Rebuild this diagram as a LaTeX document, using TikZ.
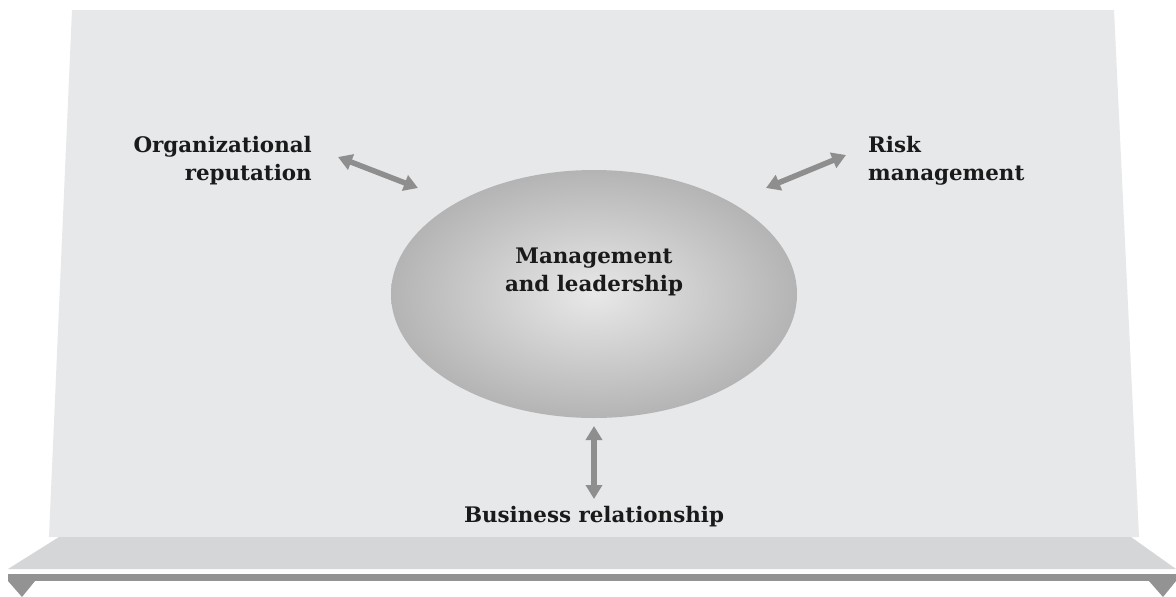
\documentclass[tikz,border=0pt]{standalone}
\usepackage{fontspec}
\setmainfont{DejaVu Serif}
\usetikzlibrary{arrows.meta,shapes.geometric}
\definecolor{panelc}{HTML}{E7E8EA}
\definecolor{shelfc}{HTML}{D5D6D8}
\definecolor{barc}{HTML}{939393}
\definecolor{arrc}{HTML}{8E8E8E}
\definecolor{ellout}{HTML}{B4B4B4}
\definecolor{ellin}{HTML}{E8E8E8}
\definecolor{txtc}{HTML}{1A1A1A}
\tikzset{
  lbl/.style={font=\fontsize{21.4}{28}\selectfont\bfseries, text=txtc, inner sep=0pt},
  dblarrow/.style={draw=arrc, line width=5.5pt, {Triangle[length=14pt,width=16pt]}-{Triangle[length=14pt,width=16pt]}},
}
\begin{document}
\begin{tikzpicture}[x=1pt,y=-1pt]
\useasboundingbox[fill=white] (0,0) rectangle (1176,597);
% panel
\fill[panelc] (72,10) -- (1114,10) -- (1139,537) -- (49,537) -- cycle;
% shelf
\fill[shelfc] (59,537) -- (1131,537) -- (1176,569) -- (8,569) -- cycle;
% bar and feet
\fill[barc] (8,574) rectangle (1176,581);
\fill[barc] (8,581) -- (35,581) -- (22,597) -- cycle;
\fill[barc] (1149,581) -- (1176,581) -- (1163,597) -- cycle;
% ellipse
\node[ellipse, minimum width=406pt, minimum height=248pt, inner sep=0pt,
      inner color=ellin, outer color=ellout] (core) at (594,294) {};
\node[lbl, align=center] (ml) at (594,272) {Management\\and leadership};
\node[lbl, align=right, anchor=east] (org) at (312,161) {Organizational\\reputation};
\node[lbl, align=left, anchor=west] (risk) at (868,161) {Risk\\management};
\node[lbl] (bus) at (594,517) {Business relationship};
% arrow end points
\coordinate (a1) at (338,157); \coordinate (a2) at (418,188);
\coordinate (b1) at (766,188); \coordinate (b2) at (846,155);
\coordinate (c1) at (594,426); \coordinate (c2) at (594,499);
\draw[dblarrow] (a1) -- (a2);
\draw[dblarrow] (b1) -- (b2);
\draw[dblarrow] (c1) -- (c2);
\end{tikzpicture}
\end{document}
